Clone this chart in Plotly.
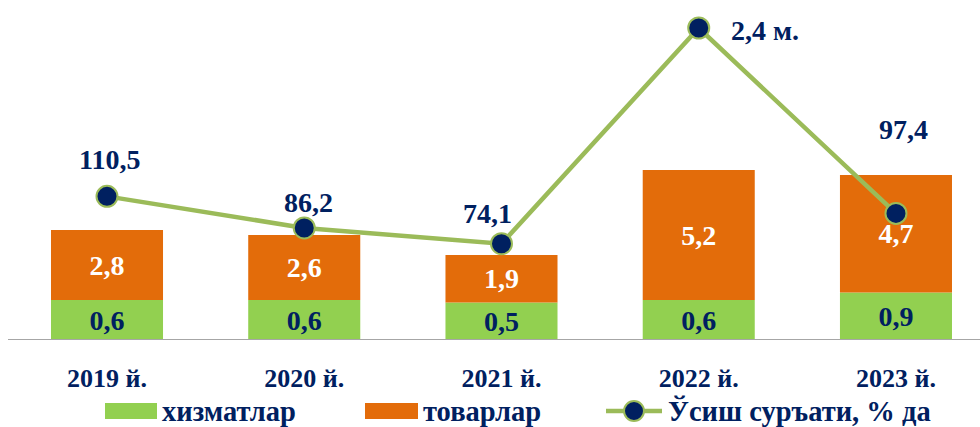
import plotly.graph_objects as go

years = ["2019 й.", "2020 й.", "2021 й.", "2022 й.", "2023 й."]
services = [0.6, 0.6, 0.5, 0.6, 0.9]      # хизматлар
goods = [2.8, 2.6, 1.9, 5.2, 4.7]         # товарлар
growth = [110.5, 86.2, 74.1, 240.0, 97.4]  # Ўсиш суръати, % да
growth_labels = ["110,5", "86,2", "74,1", "2,4 м.", "97,4"]

# style / placement
GREEN = "#92D050"
ORANGE = "#E36C0A"
LINE = "#9BBB59"
NAVY = "#002060"
FONT = "Liberation Serif"
AXIS_MIN = -1
label_shift = [(2, 37, "center"), (4, 25, "center"), (-14, 30, "center"), (30, -2, "left"), (8, 84, "center")]

def fmt(v):
    return f"{v:.1f}".replace(".", ",")

x = list(range(len(years)))

fig = go.Figure()
fig.add_trace(go.Bar(
    x=x, y=[v - AXIS_MIN for v in services], base=[AXIS_MIN] * len(services),
    width=0.568, marker=dict(color=GREEN, line=dict(width=0)),
    text=[fmt(v) for v in services], textposition="inside", insidetextanchor="middle",
    textangle=0, constraintext="none",
    textfont=dict(family=FONT, size=28, color=NAVY, weight="bold"),
    name="хизматлар", showlegend=False, hoverinfo="skip"))
fig.add_trace(go.Bar(
    x=x, y=goods, base=services,
    width=0.568, marker=dict(color=ORANGE, line=dict(width=0)),
    text=[fmt(v) for v in goods], textposition="inside", insidetextanchor="middle",
    textangle=0, constraintext="none",
    textfont=dict(family=FONT, size=28, color="white", weight="bold"),
    name="товарлар", showlegend=False, hoverinfo="skip"))
fig.add_trace(go.Scatter(
    x=x, y=growth, yaxis="y2", mode="lines+markers",
    line=dict(color=LINE, width=4.5),
    marker=dict(size=21, color=NAVY, line=dict(color=LINE, width=2)),
    name="Ўсиш суръати, % да", showlegend=False, hoverinfo="skip"))

for i, (xs, ys, anc) in enumerate(label_shift):
    fig.add_annotation(x=x[i], y=growth[i], yref="y2", xref="x", text=growth_labels[i],
                       showarrow=False, xanchor=anc, yanchor="middle", xshift=xs, yshift=ys,
                       font=dict(family=FONT, size=28, color=NAVY, weight="bold"))

# axis baseline
fig.add_shape(type="line", xref="paper", yref="y", x0=8 / 980, x1=1, y0=AXIS_MIN, y1=AXIS_MIN,
              line=dict(color="#A6A6A6", width=2))

# manual legend
leg_y = 411
def py(p):
    return 1 - (p - 15) / 325.0

legend_items = [
    ("bar", GREEN, 105, 157, "хизматлар", 160),
    ("bar", ORANGE, 365, 418, "товарлар", 421),
    ("line", LINE, 606, 662, "Ўсиш суръати, % да", 666),
]
for kind, col, x0, x1, txt, tx in legend_items:
    if kind == "bar":
        fig.add_shape(type="rect", xref="paper", yref="paper", x0=x0 / 980, x1=x1 / 980,
                      y0=py(leg_y + 8), y1=py(leg_y - 8), fillcolor=col, line=dict(width=0))
    else:
        fig.add_shape(type="line", xref="paper", yref="paper", x0=x0 / 980, x1=x1 / 980,
                      y0=py(leg_y), y1=py(leg_y), line=dict(color=col, width=4.5))
        fig.add_shape(type="circle", xref="paper", yref="paper",
                      x0=(634 - 10) / 980, x1=(634 + 10) / 980,
                      y0=py(leg_y + 10), y1=py(leg_y - 10),
                      fillcolor=NAVY, line=dict(color=LINE, width=2))
    fig.add_annotation(xref="paper", yref="paper", x=tx / 980, y=py(leg_y), text=txt,
                       showarrow=False, xanchor="left", yanchor="middle",
                       font=dict(family=FONT, size=28.5, color=NAVY, weight="bold"))

fig.update_layout(
    width=980, height=427, margin=dict(l=0, r=0, t=15, b=87),
    paper_bgcolor="white", plot_bgcolor="white", barmode="overlay",
    xaxis=dict(range=[-0.5425, 4.426], tickvals=x, ticktext=years, showgrid=False,
               zeroline=False, showline=False, ticks="", ticklabelstandoff=20,
               tickfont=dict(family=FONT, size=26, color=NAVY, weight="bold")),
    yaxis=dict(range=[AXIS_MIN, 12], visible=False, showgrid=False, zeroline=False),
    yaxis2=dict(range=[0, 250], overlaying="y", side="right", visible=False,
                showgrid=False, zeroline=False),
    showlegend=False,
)

fig.write_html("out.html", config={"displayModeBar": False},
               post_script="document.body.style.margin='0';document.body.style.overflow='hidden';")
